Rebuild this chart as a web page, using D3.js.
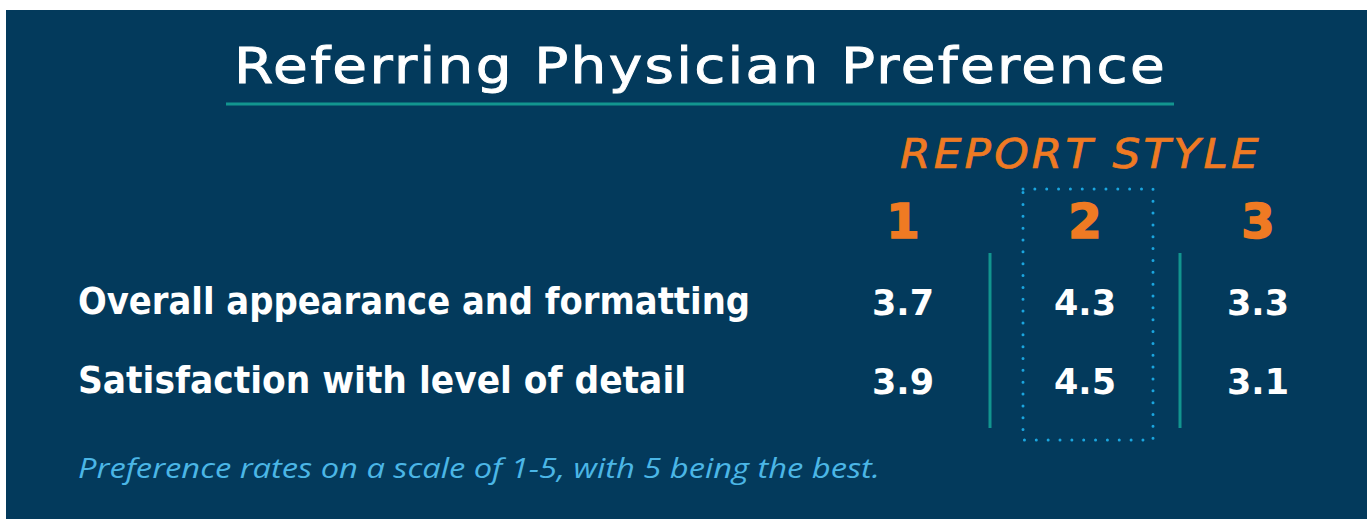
<!DOCTYPE html>
<html>
<head>
<meta charset="utf-8">
<script src="https://cdn.jsdelivr.net/npm/d3@7"></script>
<style>
  body { margin: 0; background: #fff; }
  svg { display: block; }
</style>
</head>
<body>
<div id="chart"></div>
<script>
var width = 1371;
var height = 519;

// data
var title = "Referring Physician Preference";
var groupLabel = "REPORT STYLE";
var styles = ["1", "2", "3"];
var metrics = ["Overall appearance and formatting", "Satisfaction with level of detail"];
var appearance = [3.7, 4.3, 3.3];
var detail = [3.9, 4.5, 3.1];
var highlight = "2";
var note = "Preference rates on a scale of 1-5, with 5 being the best.";

var rows = [appearance, detail];

var navy = "#033a5c", orange = "#ef7a23", teal = "#12958f", dotBlue = "#1ba6df", noteBlue = "#4bb6e6";
var wide = "'DejaVu Sans', sans-serif";

var svg = d3.select("#chart").append("svg").attr("width", width).attr("height", height);

svg.append("rect")
    .attr("x", 6).attr("y", 10)
    .attr("width", width - 4 - 6).attr("height", height - 10)
    .attr("fill", navy);

// column + row positions
var x = d3.scaleOrdinal().domain(styles).range([903, 1085, 1258]);
var y = d3.scalePoint().domain(metrics).range([314, 393]);

// title
svg.append("text")
    .attr("x", 234).attr("y", 83)
    .attr("textLength", 933).attr("lengthAdjust", "spacingAndGlyphs")
    .attr("font-family", wide)
    .attr("font-size", 49)
    .attr("letter-spacing", 2)
    .attr("fill", "#fff")
    .attr("stroke", "#fff").attr("stroke-width", 0.9)
    .text(title);

svg.append("line")
    .attr("x1", 226).attr("x2", 1174)
    .attr("y1", 104).attr("y2", 104)
    .attr("stroke", teal).attr("stroke-width", 3);

// group heading
svg.append("text")
    .attr("x", 900).attr("y", 168)
    .attr("textLength", 362).attr("lengthAdjust", "spacingAndGlyphs")
    .attr("font-family", wide)
    .attr("font-style", "italic")
    .attr("font-size", 41)
    .attr("letter-spacing", 3)
    .attr("fill", orange)
    .attr("stroke", orange).attr("stroke-width", 0.7)
    .text(groupLabel);

// highlight box around chosen style
var boxW = 130;
svg.append("rect")
    .attr("x", x(highlight) - boxW / 2 + 3).attr("y", 189)
    .attr("width", boxW).attr("height", 251)
    .attr("fill", "none")
    .attr("stroke", dotBlue)
    .attr("stroke-width", 3)
    .attr("stroke-linecap", "round")
    .attr("stroke-dasharray", "0 11.85");

// separators
svg.selectAll(".sep")
    .data([-95, 95])
    .enter().append("line")
      .attr("class", "sep")
      .attr("x1", function(d) { return x(highlight) + d; })
      .attr("x2", function(d) { return x(highlight) + d; })
      .attr("y1", 253).attr("y2", 428)
      .attr("stroke", teal).attr("stroke-width", 3);

// column headers
svg.selectAll(".colhead")
    .data(styles)
    .enter().append("text")
      .attr("class", "colhead")
      .attr("x", function(d) { return x(d); })
      .attr("y", 238)
      .attr("text-anchor", "middle")
      .attr("font-family", wide)
      .attr("font-weight", 700)
      .attr("font-size", 48)
      .attr("fill", orange)
      .attr("stroke", orange).attr("stroke-width", 1.6)
      .text(function(d) { return d; });

// row labels
var labelWidths = [672, 608];
svg.selectAll(".rowlabel")
    .data(metrics)
    .enter().append("text")
      .attr("class", "rowlabel")
      .attr("x", 78)
      .attr("y", function(d) { return y(d); })
      .attr("textLength", function(d, i) { return labelWidths[i]; })
      .attr("lengthAdjust", "spacingAndGlyphs")
      .attr("font-family", "'DejaVu Sans', sans-serif")
      .attr("font-stretch", "condensed")
      .attr("font-weight", 700)
      .attr("font-size", 38)
      .attr("fill", "#fff")
      .text(function(d) { return d; });

// values
var cells = [];
rows.forEach(function(vals, r) {
  vals.forEach(function(v, c) {
    cells.push({ metric: metrics[r], style: styles[c], value: v });
  });
});

svg.selectAll(".val")
    .data(cells)
    .enter().append("text")
      .attr("class", "val")
      .attr("x", function(d) { return x(d.style); })
      .attr("y", function(d) { return y(d.metric) + 1; })
      .attr("text-anchor", "middle")
      .attr("font-family", wide)
      .attr("font-weight", 700)
      .attr("font-size", 35)
      .attr("fill", "#fff")
      .text(function(d) { return d3.format(".1f")(d.value); });

// footnote
svg.append("text")
    .attr("x", 78).attr("y", 478)
    .attr("textLength", 802).attr("lengthAdjust", "spacingAndGlyphs")
    .attr("font-family", "'Open Sans', sans-serif")
    .attr("font-style", "italic")
    .attr("font-size", 28)
    .attr("fill", noteBlue)
    .text(note);
</script>
</body>
</html>
